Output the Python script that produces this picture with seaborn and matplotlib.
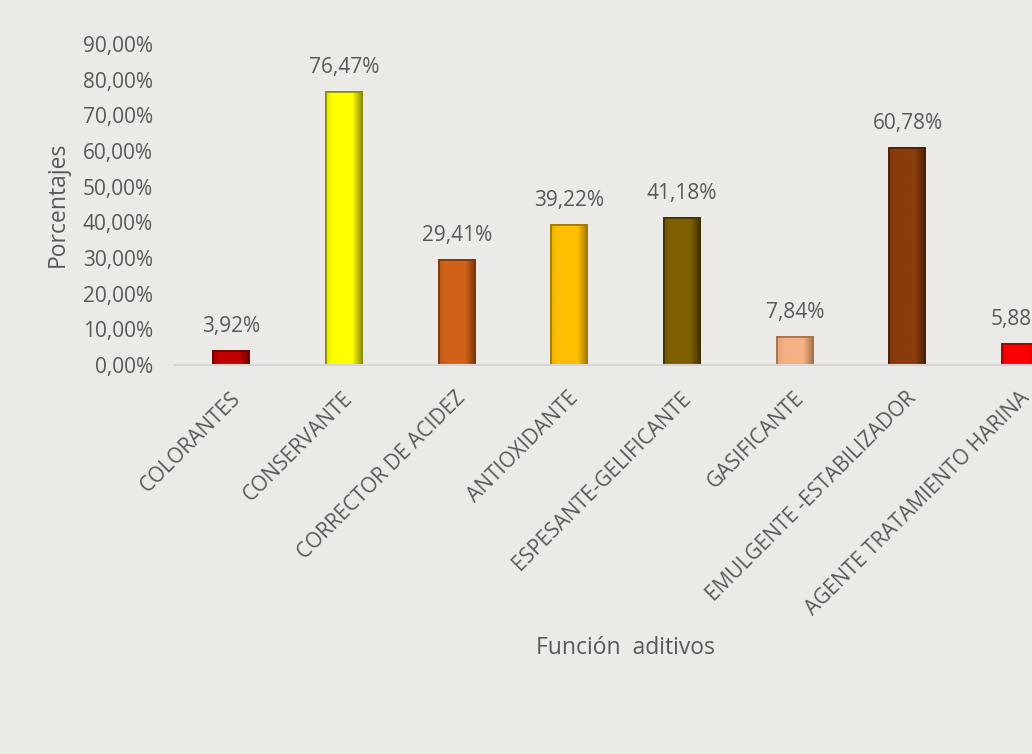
import matplotlib
matplotlib.use("Agg")
import matplotlib.pyplot as plt
import matplotlib.transforms as mtransforms
import matplotlib.colors as mcolors
import numpy as np
import seaborn as sns
import pandas as pd
from matplotlib.ticker import FuncFormatter, MultipleLocator

categories = ["COLORANTES", "CONSERVANTE", "CORRECTOR DE ACIDEZ", "ANTIOXIDANTE",
              "ESPESANTE-GELIFICANTE", "GASIFICANTE", "EMULGENTE -ESTABILIZADOR",
              "AGENTE TRATAMIENTO HARINA"]
values = [3.92, 76.47, 29.41, 39.22, 41.18, 7.84, 60.78, 5.88]
colors = ["#C00000", "#FFFF00", "#D0621A", "#FFC000", "#7F6000", "#F4B183", "#8B3C0C", "#FF0000"]
edges = ["#6E0000", "#8C8C00", "#7A3608", "#A07800", "#3F3000", "#A87048", "#4A1E04", "#A00000"]

sns.set_theme(style="white")
plt.rcParams['font.family'] = ['Open Sans', 'DejaVu Sans']
bg = "#ECEAE6"
text_col = "#595959"

W, H = 1032, 754
x0, x1 = 175, 1076.5
y_top, y_bot = 44, 365

fig = plt.figure(figsize=(W / 100, H / 100), dpi=100, facecolor=bg)
ax = fig.add_axes([x0 / W, 1 - y_bot / H, (x1 - x0) / W, (y_bot - y_top) / H])
ax.set_facecolor(bg)

df = pd.DataFrame({"cat": categories, "val": values})
sns.barplot(data=df, x="cat", y="val", hue="cat", palette=colors, legend=False,
            width=0.32, ax=ax, saturation=1)

# bevelled look: horizontal shading clipped to each bar
for p, c, ec in zip(ax.patches, colors, edges):
    p.set_edgecolor(ec)
    p.set_linewidth(1.2)
    rgb = np.array(mcolors.to_rgb(c))
    dark = np.array(mcolors.to_rgb(ec))
    cmap = mcolors.LinearSegmentedColormap.from_list(
        "b", [(0.0, tuple(rgb * 0.8 + dark * 0.2)), (0.18, tuple(rgb)),
              (0.72, tuple(rgb)), (1.0, tuple(dark))])
    bx, by, bw, bh = p.get_x(), p.get_y(), p.get_width(), p.get_height()
    grad = np.linspace(0, 1, 64).reshape(1, -1)
    im = ax.imshow(grad, cmap=cmap, aspect="auto", extent=(bx, bx + bw, by, by + bh),
                   zorder=p.get_zorder() + 0.1, interpolation="bilinear")
    im.set_clip_path(p)
    p.set_zorder(p.get_zorder())
    edge_overlay = plt.Rectangle((bx, by), bw, bh, fill=False, edgecolor=ec,
                                 linewidth=1.2, zorder=p.get_zorder() + 0.2)
    ax.add_patch(edge_overlay)

for i, v in enumerate(values):
    ax.text(i, v + 7.0, f"{v:.2f}%".replace(".", ","), ha="center", va="center",
            fontsize=15, color=text_col, clip_on=False)

ax.set_ylim(0, 90)
ax.set_xlim(-0.5, len(categories) - 0.5)
ax.yaxis.set_major_locator(MultipleLocator(10))
ax.yaxis.set_major_formatter(FuncFormatter(lambda y, _: f"{y:.2f}%".replace(".", ",")))
ax.tick_params(axis="y", labelsize=15, labelcolor=text_col, length=0, pad=16)
ax.tick_params(axis="x", labelsize=15, labelcolor=text_col, length=0, pad=0)
ax.set_xticks(range(len(categories)))
ax.set_xticklabels(categories, rotation=45, ha="right", va="center", rotation_mode="anchor")
offset = mtransforms.ScaledTranslation(0.06, -0.30, fig.dpi_scale_trans)
for lab in ax.get_xticklabels():
    lab.set_transform(lab.get_transform() + offset)

for s in ["top", "right", "left"]:
    ax.spines[s].set_visible(False)
ax.spines["bottom"].set_color("#D6D6D6")
ax.spines["bottom"].set_linewidth(1.5)

ax.set_xlabel("Función  aditivos", fontsize=16.5, color=text_col)
ax.xaxis.set_label_coords((625 - x0) / (x1 - x0), -(648 - y_bot) / (y_bot - y_top))
ax.xaxis.label.set_va("center")
ax.set_ylabel("Porcentajes", fontsize=16.5, color=text_col)
ax.yaxis.set_label_coords(-(x0 - 58) / (x1 - x0), (y_bot - 204) / (y_bot - y_top))
ax.yaxis.label.set_va("center")

fig.savefig("out.png", dpi=100, facecolor=bg)
